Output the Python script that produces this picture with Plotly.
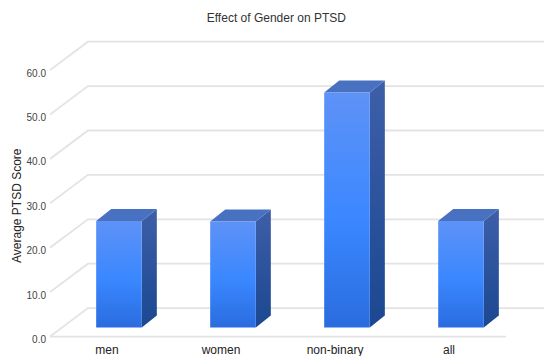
import plotly.graph_objects as go

# Data
categories = ["men", "women", "non-binary", "all"]
ptsd_scores = [24.0, 23.9, 52.9, 24.0]
y_ticks = [0, 10, 20, 30, 40, 50, 60]

# Pseudo-3D geometry (axis units: x = category slot, y = score)
WALL_DX, WALL_DY = 0.333, 6.4      # depth of the floor / back wall
FACE_DX, FACE_DY = 0.105, 2.03     # offset of a bar's front face from the front edge
SIDE_DX, SIDE_DY = 0.132, 2.70     # depth of a bar
HALF_W = 0.2                       # half width of a bar's front face
X_MIN, X_MAX = -0.5, len(categories) - 0.5

GRID = "#e3e3e3"
FONT = "Arial, Liberation Sans, sans-serif"

fig = go.Figure()

# Floor edge, wall gridlines and their diagonal floor-to-wall connectors
gx, gy = [X_MIN, X_MAX, None], [0, 0, None]
for t in y_ticks:
    gx += [X_MIN, X_MIN + WALL_DX, X_MAX + WALL_DX, None]
    gy += [t, t + WALL_DY, t + WALL_DY, None]
fig.add_trace(go.Scatter(x=gx, y=gy, mode="lines",
                         line=dict(color=GRID, width=1.8),
                         hoverinfo="skip", showlegend=False))


def face(xs, ys, scale=None, color=None):
    kw = dict(x=xs + [xs[0]], y=ys + [ys[0]], mode="lines", fill="toself",
              line=dict(width=0), hoverinfo="skip", showlegend=False)
    if scale:
        kw["fillgradient"] = dict(type="vertical", colorscale=scale)
    else:
        kw["fillcolor"] = color
    return go.Scatter(**kw)


front_scale = [[0, "#2a6cdf"], [0.45, "#3a87ff"], [1, "#5e92f7"]]
side_scale = [[0, "#1b4791"], [1, "#3d5fa8"]]
top_color = "#4871c2"

for i, v in enumerate(ptsd_scores):
    xl = i + FACE_DX - HALF_W
    xr = i + FACE_DX + HALF_W
    y0 = FACE_DY
    y1 = FACE_DY + v
    # side face
    fig.add_trace(face([xr, xr + SIDE_DX, xr + SIDE_DX, xr],
                       [y0, y0 + SIDE_DY, y1 + SIDE_DY, y1], scale=side_scale))
    # top face
    fig.add_trace(face([xl, xr, xr + SIDE_DX, xl + SIDE_DX],
                       [y1, y1, y1 + SIDE_DY, y1 + SIDE_DY], color=top_color))
    # front face
    fig.add_trace(face([xl, xr, xr, xl], [y0, y0, y1, y1], scale=front_scale))

fig.update_layout(
    width=544, height=356,
    margin=dict(l=50, r=0, t=39, b=15),
    paper_bgcolor="white", plot_bgcolor="white",
    font=dict(family=FONT, color="#222"),
    title=dict(text="Effect of Gender on PTSD", x=0.508, xref="container",
               y=0.949, yanchor="middle", xanchor="center",
               font=dict(size=12, color="#333", family=FONT)),
    xaxis=dict(range=[X_MIN, X_MAX + WALL_DX], tickvals=list(range(len(categories))),
               ticktext=categories, showgrid=False, zeroline=False, showline=False,
               ticks="", tickfont=dict(size=12, color="#222"), ticklabelstandoff=0,
               automargin=False, fixedrange=True),
    yaxis=dict(range=[-1, 67], tickvals=y_ticks, ticktext=[f"{t:.1f}" for t in y_ticks],
               showgrid=False, zeroline=False, showline=False, ticks="",
               tickfont=dict(size=10, color="#444"), ticklabelstandoff=3,
               ticklabelshift=3, automargin=False, fixedrange=True),
    annotations=[dict(text="Average PTSD Score", textangle=-90, xref="paper", yref="paper",
                      x=-0.067, y=0.45, xanchor="center", yanchor="middle",
                      showarrow=False, font=dict(size=12, color="#222", family=FONT))],
)

fig.write_html("out.html")
